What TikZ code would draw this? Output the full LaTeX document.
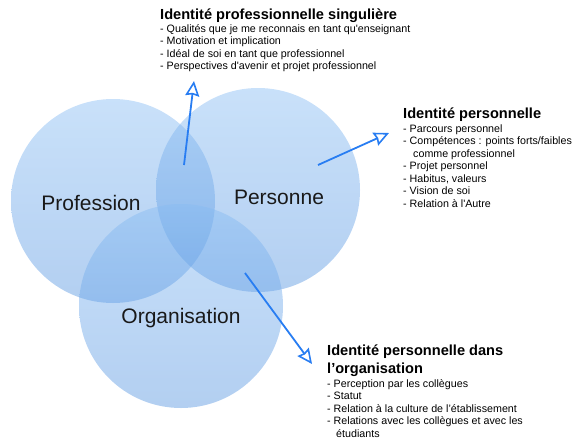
\documentclass[tikz,border=0pt]{standalone}
\usepackage{fontspec}
\setmainfont{Liberation Sans}
\usetikzlibrary{arrows.meta}
\definecolor{ctop}{RGB}{135,188,243}
\definecolor{cbot}{RGB}{85,148,224}
\definecolor{arrblue}{RGB}{40,125,242}
\definecolor{lbl}{RGB}{25,25,25}
\begin{document}
\begin{tikzpicture}[x=1pt,y=-1pt,
  circ/.style={circle, draw=none, inner sep=0pt, minimum size=204pt, top color=ctop, bottom color=cbot, fill opacity=0.45},
  clabel/.style={font=\fontsize{21}{24}\selectfont, text=lbl, inner sep=0pt},
  ttl/.style={font=\fontsize{14.6}{18}\selectfont\bfseries, anchor=base west, inner sep=0pt},
  body/.style={font=\fontsize{10.7}{12.5}\selectfont, anchor=base west, inner sep=0pt},
  arr/.style={draw=arrblue, line width=1.8pt, -{Stealth[open, length=15pt, width=14pt, inset=1.5pt, line width=1.6pt]}}]
\useasboundingbox (0,0) rectangle (580,447);
% circles
\node[circ] (prof) at (113,201) {};
\node[circ] (pers) at (258,190) {};
\node[circ] (orga) at (181,306) {};
\node[clabel] (lprof) at (91,203) {Profession};
\node[clabel] (lpers) at (279,197) {Personne};
\node[clabel] (lorga) at (181,318) {Organisation};
% block 1
\node[ttl] (t1) at (160,19) {Identité professionnelle singulière};
\node[body] (b1a) at (160,32) {- Qualités que je me reconnais en tant qu\textquotesingle enseignant};
\node[body] (b1b) at (160,44.5) {- Motivation et implication};
\node[body] (b1c) at (160,57) {- Idéal de soi en tant que professionnel};
\node[body] (b1d) at (160,69.5) {- Perspectives d\textquotesingle avenir et projet professionnel};
% block 2
\node[ttl] (t2) at (403,118) {Identité personnelle};
\node[body] (b2a) at (403,132) {- Parcours personnel};
\node[body] (b2b) at (403,144.5) {- Compétences : points forts/faibles};
\node[body] (b2c) at (413,157) {comme professionnel};
\node[body] (b2d) at (403,169.5) {- Projet personnel};
\node[body] (b2e) at (403,182) {- Habitus, valeurs};
\node[body] (b2f) at (403,194.5) {- Vision de soi};
\node[body] (b2g) at (403,207) {- Relation à l\textquotesingle Autre};
% block 3
\node[ttl] (t3a) at (327,355) {Identité personnelle dans};
\node[ttl] (t3b) at (327,373) {l’organisation};
\node[body] (b3a) at (327,387) {- Perception par les collègues};
\node[body] (b3b) at (327,399.5) {- Statut};
\node[body] (b3c) at (327,412) {- Relation à la culture de l’établissement};
\node[body] (b3d) at (327,424.5) {- Relations avec les collègues et avec les};
\node[body] (b3e) at (336,437) {étudiants};
% arrows
\coordinate (a1s) at (184,165);
\coordinate (a1e) at (194,81);
\coordinate (a2s) at (318,165);
\coordinate (a2e) at (389,133);
\coordinate (a3s) at (245,273);
\coordinate (a3e) at (312,364);
\draw[arr] (a1s) -- (a1e);
\draw[arr] (a2s) -- (a2e);
\draw[arr] (a3s) -- (a3e);
\end{tikzpicture}
\end{document}
